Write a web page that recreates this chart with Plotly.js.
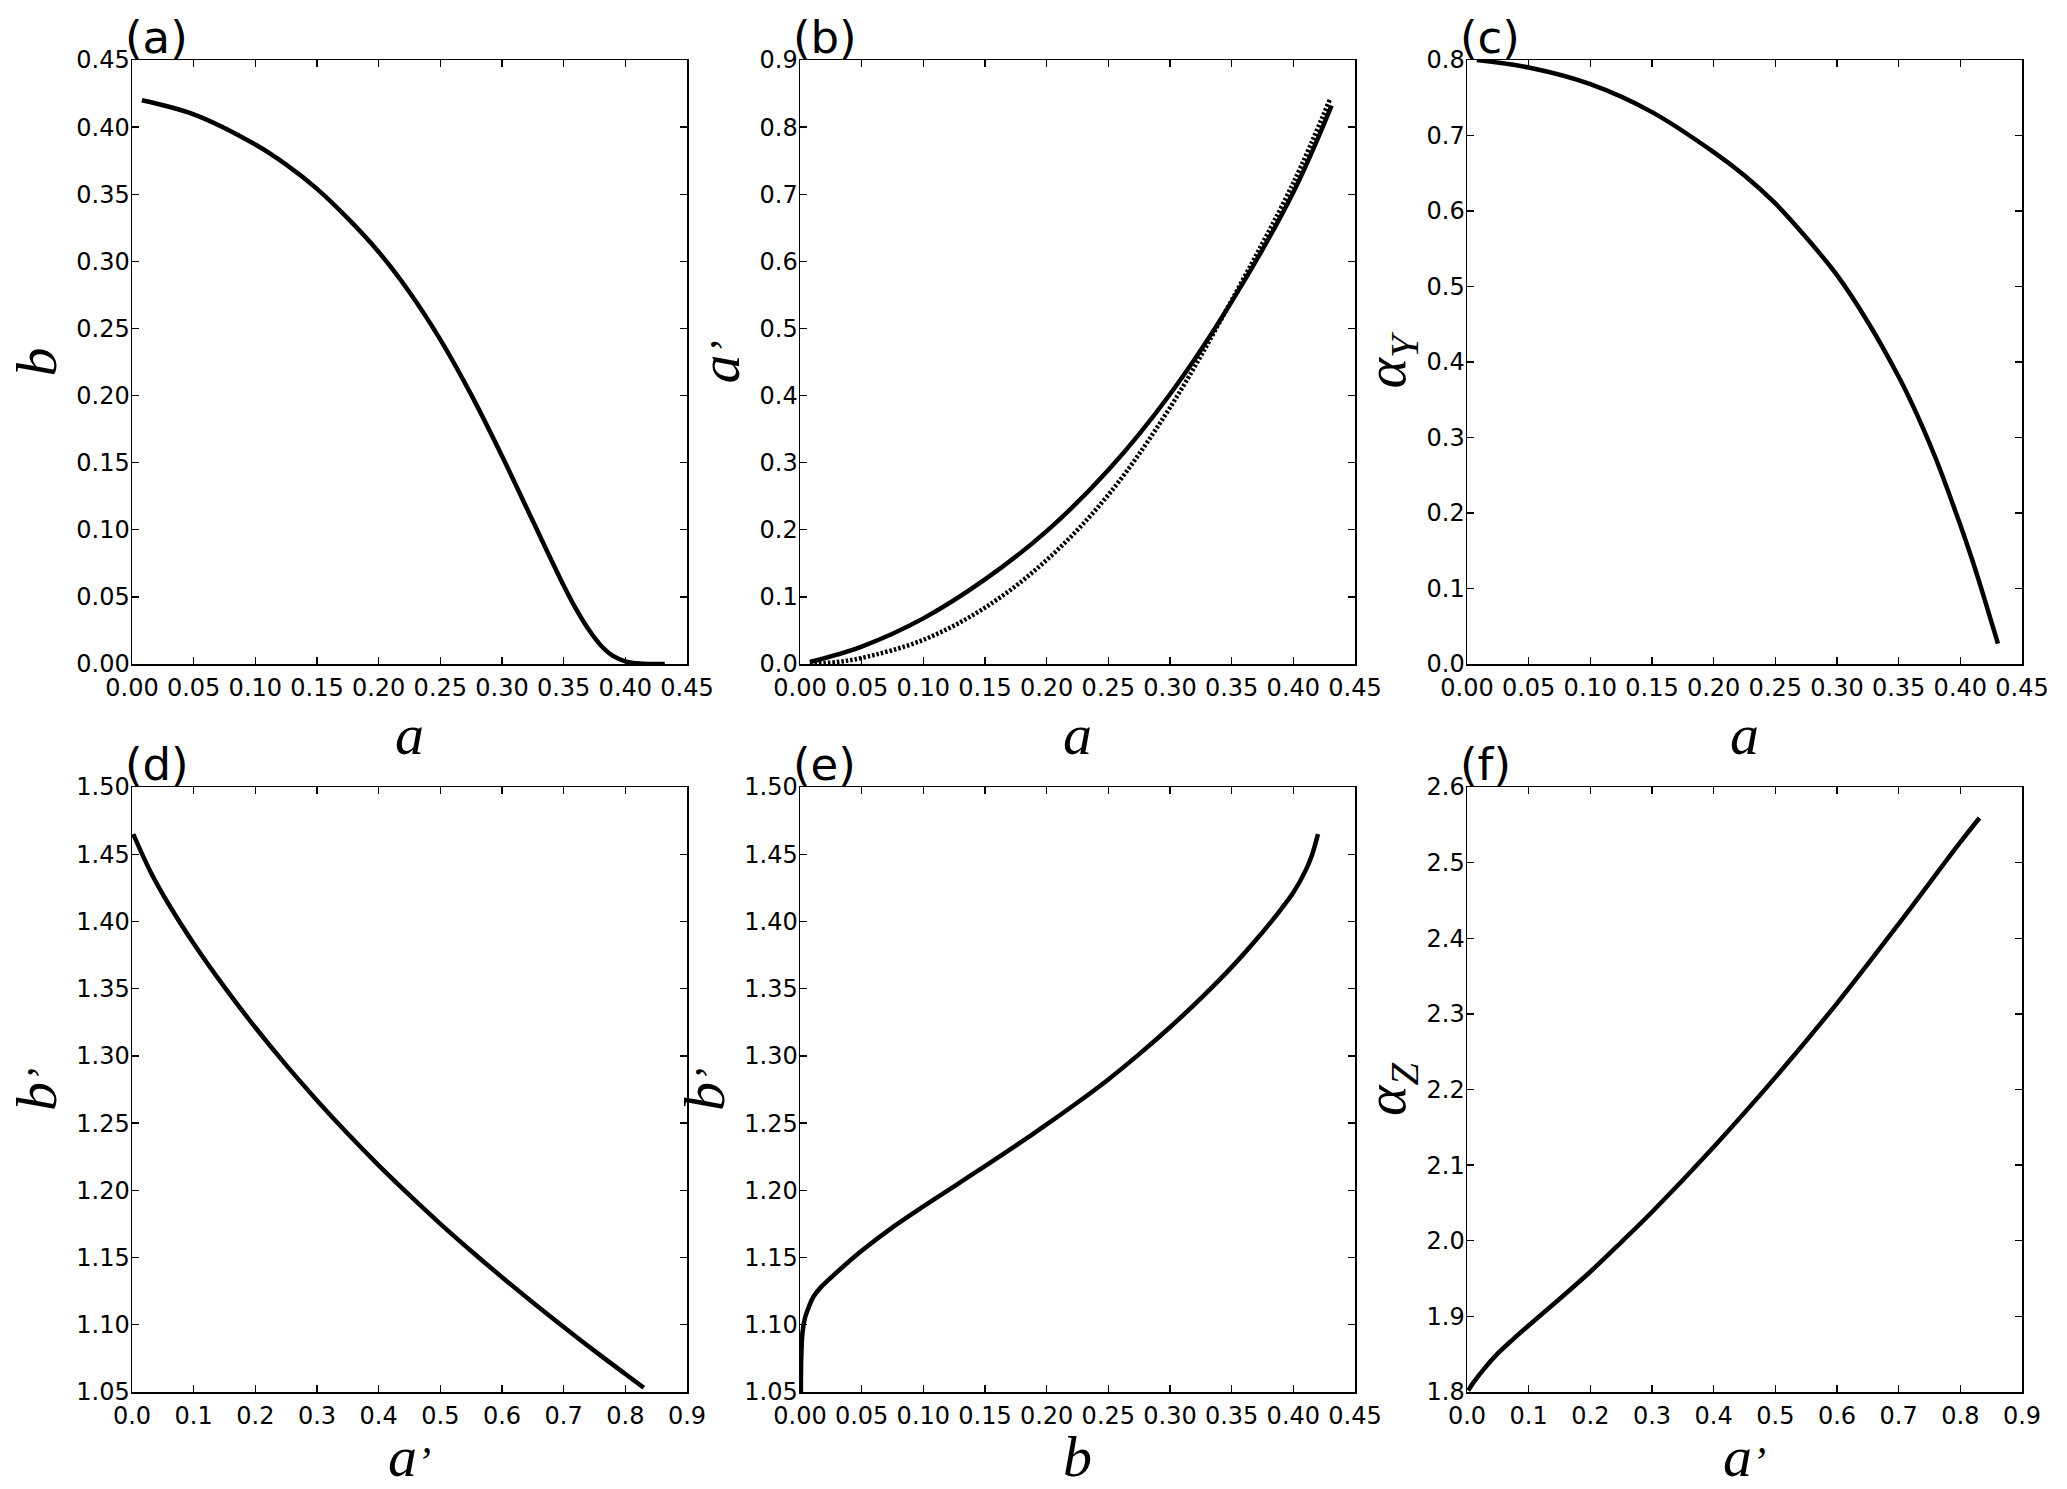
<!DOCTYPE html>
<html>
<head>
<meta charset="utf-8">
<script src="https://cdn.plot.ly/plotly-3.0.1.min.js"></script>
<style>html,body{margin:0;padding:0;background:#fff;}#chart{width:2067px;height:1489px;}</style>
</head>
<body>
<div id="chart"></div>
<script>
// ---- data ----
// (a) b vs a
const aPanelA = [0.008, 0.05, 0.10, 0.125, 0.15, 0.175, 0.20, 0.225, 0.25, 0.275, 0.30, 0.325, 0.35, 0.36, 0.37, 0.38, 0.39, 0.40, 0.41, 0.42, 0.432];
const bPanelA = [0.420, 0.4095, 0.387, 0.372, 0.354, 0.332, 0.307, 0.277, 0.2417, 0.2007, 0.155, 0.1065, 0.0585, 0.041, 0.026, 0.014, 0.006, 0.002, 0.0005, 0.0, 0.0];
// (b) a' vs a, solid and dotted
const aPanelB = [0.008, 0.05, 0.10, 0.15, 0.20, 0.25, 0.30, 0.35, 0.40, 0.431];
const apSolid = [0.003, 0.026, 0.068, 0.126, 0.198, 0.289, 0.402, 0.540, 0.703, 0.832];
const aPanelBDot = [0.008, 0.03, 0.05, 0.10, 0.15, 0.20, 0.25, 0.30, 0.35, 0.40, 0.430];
const apDotted = [0.0, 0.003, 0.009, 0.036, 0.084, 0.155, 0.252, 0.382, 0.542, 0.717, 0.843];
// (c) alpha_Y vs a
const aPanelC = [0.008, 0.05, 0.10, 0.15, 0.20, 0.225, 0.25, 0.275, 0.30, 0.325, 0.35, 0.36, 0.37, 0.38, 0.39, 0.40, 0.41, 0.42, 0.4305];
const alphaY = [0.800, 0.790, 0.768, 0.731, 0.678, 0.647, 0.610, 0.565, 0.515, 0.453, 0.3805, 0.3475, 0.3115, 0.2725, 0.2295, 0.184, 0.136, 0.084, 0.027];
// (d) b' vs a'
const apPanelD = [0.002, 0.03, 0.06, 0.10, 0.15, 0.20, 0.25, 0.30, 0.35, 0.40, 0.45, 0.50, 0.55, 0.60, 0.65, 0.70, 0.75, 0.80, 0.83];
const bpPanelD = [1.465, 1.437, 1.4124, 1.3836, 1.3511, 1.3211, 1.2931, 1.2669, 1.2421, 1.2186, 1.1964, 1.1751, 1.1549, 1.1354, 1.1166, 1.0984, 1.0806, 1.0634, 1.0532];
// (e) b' vs b
const bPanelE = [0.0007, 0.001, 0.002, 0.004, 0.007, 0.011, 0.017, 0.025, 0.05, 0.075, 0.10, 0.125, 0.15, 0.175, 0.20, 0.225, 0.25, 0.275, 0.30, 0.325, 0.35, 0.375, 0.39, 0.40, 0.41, 0.415, 0.42];
const bpPanelE = [1.05, 1.075, 1.094, 1.105, 1.113, 1.121, 1.128, 1.135, 1.155, 1.1725, 1.188, 1.203, 1.218, 1.2333, 1.249, 1.2653, 1.2825, 1.3013, 1.3213, 1.3428, 1.366, 1.392, 1.409, 1.4215, 1.438, 1.449, 1.465];
// (f) alpha_Z vs a'
const apPanelF = [0.002, 0.01, 0.025, 0.05, 0.075, 0.10, 0.15, 0.20, 0.25, 0.30, 0.40, 0.50, 0.60, 0.70, 0.80, 0.831];
const alphaZ = [1.802, 1.812, 1.828, 1.851, 1.870, 1.888, 1.923, 1.959, 1.998, 2.038, 2.124, 2.216, 2.314, 2.419, 2.527, 2.559];

const panelLabels = ['(a)', '(b)', '(c)', '(d)', '(e)', '(f)'];
const PRIME = '<span style="font-size:42px">’</span>';
const xTitles = ['a', 'a', 'a', 'a' + PRIME, 'b', 'a' + PRIME];
const yTitles = ['b', 'a' + PRIME, 'α<sub>Y</sub>', 'b' + PRIME, 'b' + PRIME, 'α<sub>Z</sub>'];

// ---- layout geometry ----
const W = 2067, H = 1489;
const cols = [[132, 687], [800, 1355], [1467, 2022]];
const rows = [[60, 664], [787, 1392]];

function solid(s) {
  return {color: '#000', width: 4.5, shape: 'spline', smoothing: s};
}
const traces = [
  {x: aPanelA, y: bPanelA, xaxis: 'x', yaxis: 'y', mode: 'lines', line: solid(1.0)},
  {x: aPanelBDot, y: apDotted, xaxis: 'x2', yaxis: 'y2', mode: 'lines', line: {color: '#000', width: 4.5, dash: '2.5px,2px', shape: 'spline', smoothing: 1.0}},
  {x: aPanelB, y: apSolid, xaxis: 'x2', yaxis: 'y2', mode: 'lines', line: solid(1.0)},
  {x: aPanelC, y: alphaY, xaxis: 'x3', yaxis: 'y3', mode: 'lines', line: solid(1.0)},
  {x: apPanelD, y: bpPanelD, xaxis: 'x4', yaxis: 'y4', mode: 'lines', line: solid(1.0)},
  {x: bPanelE, y: bpPanelE, xaxis: 'x5', yaxis: 'y5', mode: 'lines', line: solid(0.8)},
  {x: apPanelF, y: alphaZ, xaxis: 'x6', yaxis: 'y6', mode: 'lines', line: solid(1.0)}
];

const xRanges = [[0, 0.45], [0, 0.45], [0, 0.45], [0, 0.9], [0, 0.45], [0, 0.9]];
const xDt = [0.05, 0.05, 0.05, 0.1, 0.05, 0.1];
const xFmt = ['.2f', '.2f', '.2f', '.1f', '.2f', '.1f'];
const yRanges = [[0, 0.45], [0, 0.9], [0, 0.8], [1.05, 1.5], [1.05, 1.5], [1.8, 2.6]];
const yDt = [0.05, 0.1, 0.1, 0.05, 0.05, 0.1];
const yFmt = ['.2f', '.1f', '.1f', '.2f', '.2f', '.1f'];

const tickFont = {family: 'DejaVu Sans', size: 24, color: '#000'};
const titleFont = {family: 'Liberation Serif', size: 58, color: '#000'};

const layout = {
  width: W, height: H,
  margin: {l: 0, r: 0, t: 0, b: 0},
  paper_bgcolor: '#fff', plot_bgcolor: '#fff',
  showlegend: false,
  annotations: []
};

for (let i = 0; i < 6; i++) {
  const c = cols[i % 3], r = rows[Math.floor(i / 3)];
  const sfx = i === 0 ? '' : String(i + 1);
  const common = {
    showline: true, linecolor: '#000', linewidth: 1.5, mirror: 'ticks',
    ticks: 'inside', ticklen: 7, tickwidth: 1.3, tickcolor: '#000',
    showgrid: false, zeroline: false, tickfont: tickFont, fixedrange: true
  };
  layout['xaxis' + sfx] = Object.assign({}, common, {
    domain: [c[0] / W, c[1] / W], anchor: 'y' + sfx,
    range: xRanges[i], tick0: 0, dtick: xDt[i], tickformat: xFmt[i],
    ticklabelstandoff: 2,
    title: {text: '<i>' + xTitles[i] + '</i>', font: titleFont, standoff: 4}
  });
  layout['yaxis' + sfx] = Object.assign({}, common, {
    domain: [1 - r[1] / H, 1 - r[0] / H], anchor: 'x' + sfx,
    range: yRanges[i], tick0: yRanges[i][0], dtick: yDt[i], tickformat: yFmt[i],
    ticklabelstandoff: -4,
    title: {text: '<i>' + yTitles[i] + '</i>', font: titleFont, standoff: 1}
  });
  layout.annotations.push({
    text: panelLabels[i], xref: 'paper', yref: 'paper',
    x: (c[0] - 8) / W, y: 1 - (r[0] + 5) / H, xanchor: 'left', yanchor: 'bottom',
    showarrow: false, font: {family: 'DejaVu Sans', size: 45, color: '#000'}, borderpad: 0
  });
}

Plotly.newPlot('chart', traces, layout, {staticPlot: true, displayModeBar: false});
</script>
</body>
</html>
